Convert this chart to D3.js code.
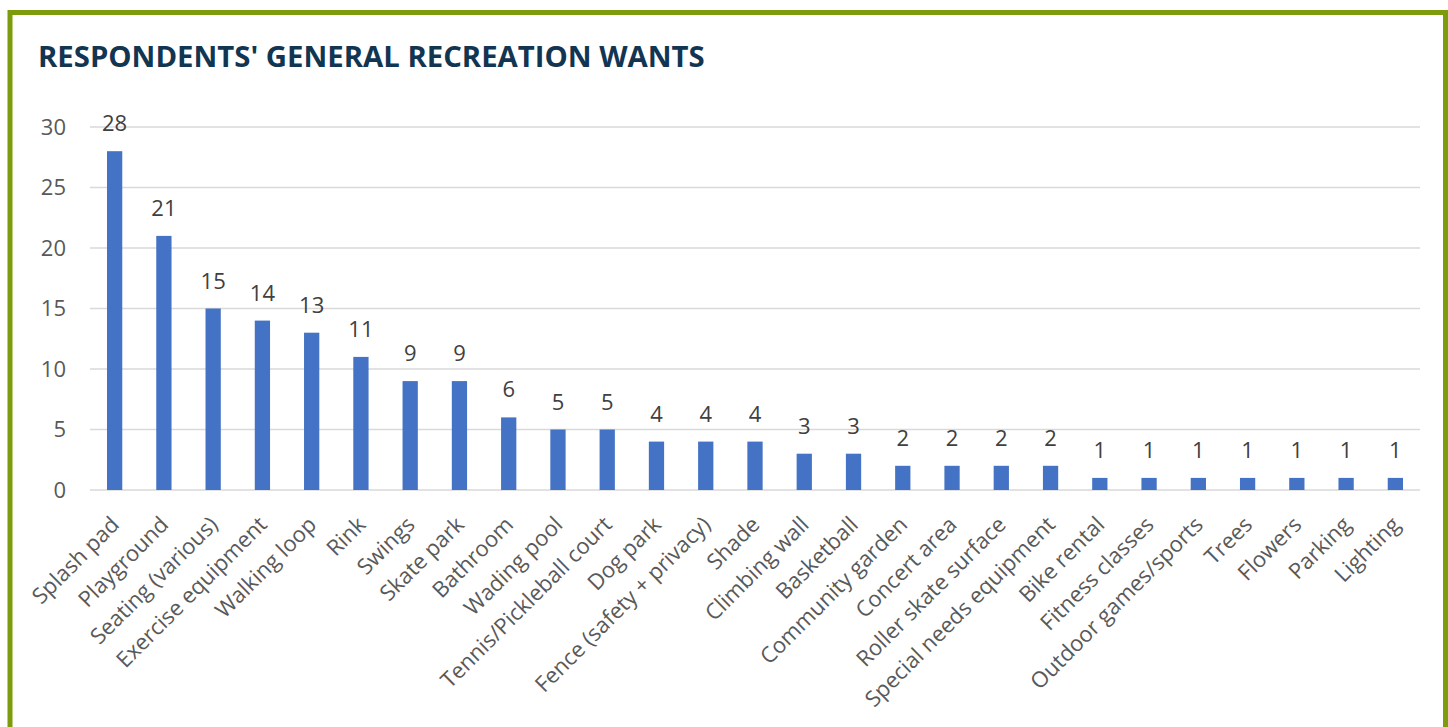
<!DOCTYPE html>
<html><head><meta charset="utf-8">
<script src="https://cdn.jsdelivr.net/npm/d3@7"></script>
<style>
html,body{margin:0;padding:0;background:#fff;}
svg{display:block;}
</style></head>
<body>
<svg id="chart" width="1448" height="727"></svg>
<script>
const title = "RESPONDENTS' GENERAL RECREATION WANTS";
const categories = ["Splash pad","Playground","Seating (various)","Exercise equipment","Walking loop","Rink","Swings","Skate park","Bathroom","Wading pool","Tennis/Pickleball court","Dog park","Fence (safety + privacy)","Shade","Climbing wall","Basketball","Community garden","Concert area","Roller skate surface","Special needs equipment","Bike rental","Fitness classes","Outdoor games/sports","Trees","Flowers","Parking","Lighting"];
const values = [28,21,15,14,13,11,9,9,6,5,5,4,4,4,3,3,2,2,2,2,1,1,1,1,1,1,1];
const yTicks = [0,5,10,15,20,25,30];

const svg = d3.select("#chart");
// frame
svg.append("rect").attr("x",10).attr("y",12.5).attr("width",1435.5).attr("height",760)
  .attr("fill","none").attr("stroke","#7c9c0c").attr("stroke-width",5);
svg.append("text").attr("x",38).attr("y",67).text(title)
  .attr("font-family","'Open Sans', sans-serif").attr("font-weight",700)
  .attr("font-size",29.3).attr("fill","#123552");

const m = {left:90, right:1420, top:127, bottom:490};
const x = d3.scaleBand().domain(categories).range([m.left,m.right]).paddingInner(0.69).paddingOuter(0.345);
const y = d3.scaleLinear().domain([0,30]).range([m.bottom,m.top]);

const g = svg.append("g");
g.selectAll("line.grid").data(yTicks).join("line").attr("class","grid")
  .attr("x1",m.left).attr("x2",m.right).attr("y1",d=>y(d)).attr("y2",d=>y(d))
  .attr("stroke","#d9d9d9").attr("stroke-width",1.5);
g.selectAll("text.yt").data(yTicks).join("text").attr("class","yt")
  .attr("x",66).attr("y",d=>y(d)).attr("dy","0.36em").attr("text-anchor","end")
  .attr("font-family","'Open Sans', sans-serif").attr("font-size",22).attr("fill","#595959")
  .text(d=>d);
g.selectAll("rect.bar").data(values).join("rect").attr("class","bar")
  .attr("x",(d,i)=>x(categories[i])).attr("width",x.bandwidth())
  .attr("y",d=>y(d)).attr("height",d=>y(0)-y(d)).attr("fill","#4472c4");
g.selectAll("text.val").data(values).join("text").attr("class","val")
  .attr("x",(d,i)=>x(categories[i])+x.bandwidth()/2).attr("y",d=>y(d)-20)
  .attr("text-anchor","middle")
  .attr("font-family","'Open Sans', sans-serif").attr("font-size",22).attr("fill","#404040")
  .text(d=>d);
g.selectAll("text.cat").data(categories).join("text").attr("class","cat")
  .attr("transform",d=>`translate(${x(d)+x.bandwidth()/2+6},${m.bottom+36}) rotate(-45)`)
  .attr("text-anchor","end")
  .attr("font-family","'Open Sans', sans-serif").attr("font-size",22).attr("fill","#595959")
  .text(d=>d);
</script>
</body></html>
